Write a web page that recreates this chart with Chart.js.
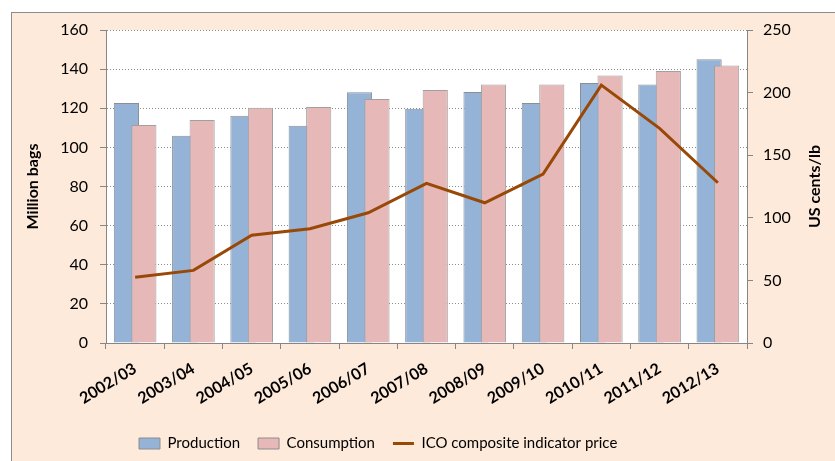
<!DOCTYPE html>
<html>
<head>
<meta charset="utf-8">
<script src="https://cdn.jsdelivr.net/npm/chart.js@4/dist/chart.umd.min.js"></script>
<style>
  html, body { margin: 0; padding: 0; background: #fff; }
  #wrap { position: relative; width: 835px; height: 461px; }
</style>
</head>
<body>
<div id="wrap"><canvas id="chart" width="835" height="461"></canvas></div>
<script>
// ---- data ----
const seasons = ['2002/03', '2003/04', '2004/05', '2005/06', '2006/07', '2007/08',
                 '2008/09', '2009/10', '2010/11', '2011/12', '2012/13'];
const production  = [122.7, 105.9, 116.2, 111.0, 128.2, 119.8, 128.3, 122.7, 132.9, 132.2, 145.0];
const consumption = [111.4, 114.0, 120.3, 120.7, 124.7, 129.3, 132.2, 132.2, 136.8, 139.0, 141.9];
const icoPrice    = [52.5, 58.0, 86.0, 91.3, 104.0, 127.5, 112.0, 135.0, 206.0, 171.5, 128.0];

const leftTicks  = { min: 0, max: 160, step: 20 };
const rightTicks = { min: 0, max: 250, step: 50 };

// background: peach frame + white plot area + right axis title
const framePlugin = {
  id: 'frame',
  beforeDraw(chart) {
    const { ctx, chartArea: a } = chart;
    ctx.save();
    ctx.fillStyle = '#ffffff';
    ctx.fillRect(0, 0, chart.width, chart.height);
    ctx.fillStyle = '#FDEADA';
    ctx.fillRect(11, 12, chart.width, chart.height);
    ctx.strokeStyle = '#8C8C8C';
    ctx.lineWidth = 1;
    ctx.strokeRect(11.5, 12.5, chart.width, chart.height);
    ctx.fillStyle = '#ffffff';
    ctx.fillRect(a.left, a.top, a.right - a.left, a.bottom - a.top);
    ctx.restore();

    // legend sits left of centre in the original
    const lg = chart.legend;
    if (lg) {
      const w = lg.right - lg.left;
      lg.left = 121;
      lg.right = lg.left + w;
    }
  },
  // production first, consumption on top of it (bars overlap)
  beforeDatasetDraw(chart, args) {
    if (args.index === 0) return false;
    if (args.index === 1) chart.getDatasetMeta(0).controller.draw();
  },
  afterDraw(chart) {
    const { ctx, chartArea: a } = chart;
    ctx.save();
    ctx.translate(815, (a.top + a.bottom) / 2);
    ctx.rotate(-Math.PI / 2);
    ctx.font = 'bold 16px Lato';
    ctx.fillStyle = '#000';
    ctx.textAlign = 'center';
    ctx.textBaseline = 'middle';
    ctx.fillText('US cents/lb', 0, 0);
    ctx.restore();
  }
};

const tickFont = { family: 'Lato', size: 16 };

new Chart(document.getElementById('chart'), {
  type: 'bar',
  data: {
    labels: seasons,
    datasets: [
      {
        label: 'Production',
        data: production,
        backgroundColor: '#95B3D7',
        borderColor: '#8A8F96',
        borderWidth: 1,
        categoryPercentage: 0.6,
        barPercentage: 1.44,
        yAxisID: 'y',
        order: 2
      },
      {
        label: 'Consumption',
        data: consumption,
        backgroundColor: '#E6B9B8',
        borderColor: '#A0A0A0',
        borderWidth: 1,
        categoryPercentage: 0.6,
        barPercentage: 1.44,
        yAxisID: 'y',
        order: 2
      },
      {
        type: 'line',
        label: 'ICO composite indicator price',
        data: icoPrice,
        borderColor: '#984807',
        backgroundColor: '#984807',
        borderWidth: 3,
        pointRadius: 0,
        tension: 0,
        yAxisID: 'y1',
        order: 1
      }
    ]
  },
  options: {
    responsive: false,
    animation: false,
    layout: { padding: { left: 20, right: 0, top: 30, bottom: 0 } },
    plugins: {
      tooltip: { enabled: false },
      legend: {
        position: 'bottom',
        align: 'start',
        labels: {
          font: { family: 'Lato', size: 15 },
          color: '#000',
          usePointStyle: true,
          pointStyleWidth: 21,
          boxHeight: 11,
          padding: 18,
          generateLabels(chart) {
            return chart.data.datasets.map((ds, i) => ({
              text: ds.label,
              datasetIndex: i,
              fillStyle: ds.type === 'line' ? ds.borderColor : ds.backgroundColor,
              strokeStyle: ds.type === 'line' ? ds.borderColor : '#8C8C8C',
              lineWidth: ds.type === 'line' ? 3 : 1,
              pointStyle: ds.type === 'line' ? 'line' : 'rect',
              fontColor: '#000',
              hidden: false
            }));
          }
        }
      }
    },
    scales: {
      x: {
        offset: true,
        grid: {
          offset: true,
          drawOnChartArea: false,
          drawTicks: true,
          tickLength: 6,
          tickColor: '#868686'
        },
        border: { color: '#868686', width: 1 },
        ticks: {
          font: { family: 'Lato', size: 16, weight: 'bold' },
          color: '#000',
          minRotation: 31,
          maxRotation: 31,
          autoSkip: false,
          padding: 10
        },
        afterFit(scale) { scale.height = 75; }
      },
      y: {
        position: 'left',
        min: leftTicks.min,
        max: leftTicks.max,
        ticks: { stepSize: leftTicks.step, font: tickFont, color: '#000', padding: 12 },
        grid: {
          color: '#8C8C8C',
          lineWidth: 1,
          tickLength: 6,
          tickColor: '#868686',
          tickBorderDash: []
        },
        border: { color: '#868686', width: 1, dash: [1, 2] },
        title: {
          display: true,
          text: 'Million bags',
          font: { family: 'Lato', size: 16, weight: 'bold' },
          color: '#000',
          padding: { top: 3, bottom: 0 }
        },
        afterFit(scale) { scale.width = 86; }
      },
      y1: {
        position: 'right',
        min: rightTicks.min,
        max: rightTicks.max,
        ticks: { stepSize: rightTicks.step, font: tickFont, color: '#000', padding: 10 },
        grid: {
          drawOnChartArea: false,
          tickLength: 6,
          tickColor: '#868686'
        },
        border: { color: '#868686', width: 1 },
        afterFit(scale) { scale.width = 88; }
      }
    }
  },
  plugins: [framePlugin]
});
</script>
</body>
</html>
